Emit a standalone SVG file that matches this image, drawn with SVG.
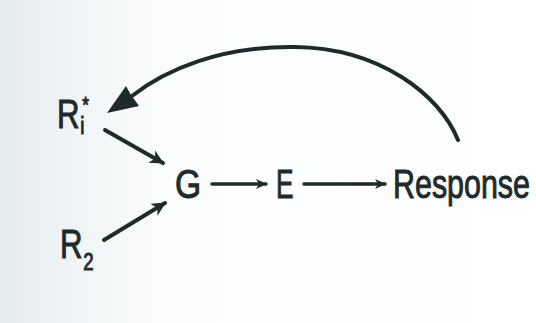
<svg xmlns="http://www.w3.org/2000/svg" width="536" height="323" viewBox="0 0 536 323">
<defs>
<linearGradient id="bg" x1="0" y1="0" x2="1" y2="0">
<stop offset="0" stop-color="#e3eaee"/>
<stop offset="0.12" stop-color="#eef3f5"/>
<stop offset="0.3" stop-color="#fbfcfc"/>
<stop offset="1" stop-color="#ffffff"/>
</linearGradient>
<marker id="ah" markerUnits="userSpaceOnUse" markerWidth="16" markerHeight="16" refX="13" refY="7" orient="auto">
<path d="M0,0 L14,7 L0,14 L4,7 Z" fill="#1f2b2b"/>
</marker>
<marker id="ahs" markerUnits="userSpaceOnUse" markerWidth="12" markerHeight="12" refX="10" refY="5" orient="auto">
<path d="M0,0 L11,5 L0,10 L3,5 Z" fill="#1f2b2b"/>
</marker>
</defs>
<style>
.t{font-family:"Liberation Sans","DejaVu Sans",sans-serif;fill:#1f2b2b;stroke:#1f2b2b;stroke-width:1;}
.c{stroke:#1f2b2b;fill:none;stroke-linecap:round;}
</style>
<rect width="536" height="323" fill="url(#bg)"/>
<g id="R1">
<text class="t" transform="translate(57,128) scale(0.78,1)" font-size="40">R<tspan font-size="24" dx="1" dy="6">i</tspan><tspan font-size="22" dx="-3" dy="-22">*</tspan></text>
</g>
<g id="R2">
<text class="t" transform="translate(60,258) scale(0.78,1)" font-size="40">R<tspan font-size="24" dx="1" dy="12">2</tspan></text>
</g>
<g id="G"><text class="t" transform="translate(175,198) scale(0.82,1)" font-size="41">G</text></g>
<g id="E"><text class="t" transform="translate(276,198) scale(0.64,1)" font-size="41">E</text></g>
<g id="Response"><text class="t" transform="translate(393,198) scale(0.742,1)" font-size="41">Response</text></g>
<g id="connectors">
<line class="c" x1="105" y1="130" x2="163" y2="163" stroke-width="4" marker-end="url(#ah)"/>
<line class="c" x1="104" y1="240" x2="165" y2="203" stroke-width="4" marker-end="url(#ah)"/>
<line class="c" x1="212" y1="184" x2="266" y2="184" stroke-width="3.5" marker-end="url(#ahs)"/>
<line class="c" x1="304" y1="184" x2="385" y2="184" stroke-width="3.5" marker-end="url(#ahs)"/>
<path class="c" d="M458,140 C440,95 380,48 295,47 C220,46 165,70 132,96" stroke-width="4"/>
<path d="M107,113 L126,86 L131,95 L139,106 Z" fill="#1f2b2b"/>
</g>
</svg>
